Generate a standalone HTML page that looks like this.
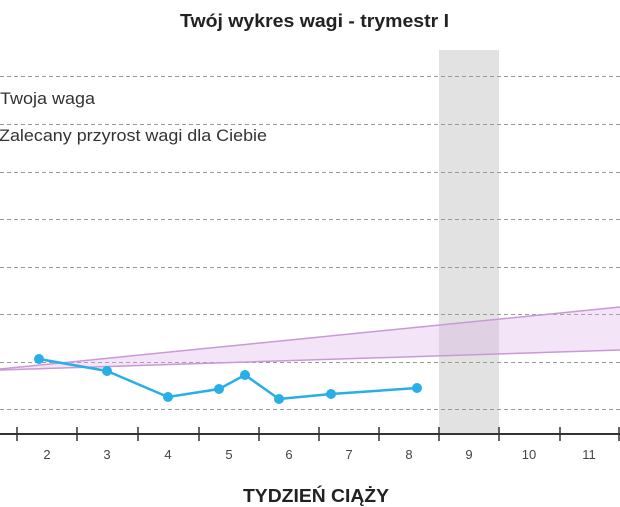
<!DOCTYPE html>
<html><head><meta charset="utf-8"><style>
body{margin:0;width:620px;height:507px;background:#fff;overflow:hidden}
svg{display:block;font-family:"Liberation Sans",sans-serif}
</style></head><body>
<svg width="620" height="507" viewBox="0 0 620 507">
<rect x="439" y="50" width="60" height="384" fill="#e2e2e2"/>
<g stroke="#9a9a9a" stroke-width="1" stroke-dasharray="4,3">
<line x1="0" y1="76.5" x2="620" y2="76.5"/>
<line x1="0" y1="124.5" x2="620" y2="124.5"/>
<line x1="0" y1="172.5" x2="620" y2="172.5"/>
<line x1="0" y1="219.5" x2="620" y2="219.5"/>
<line x1="0" y1="267.5" x2="620" y2="267.5"/>
<line x1="0" y1="314.5" x2="620" y2="314.5"/>
<line x1="0" y1="362.5" x2="620" y2="362.5"/>
<line x1="0" y1="409.5" x2="620" y2="409.5"/>
</g>
<polygon points="0,369 620,307 620,350 0,370" fill="#d9a6e6" fill-opacity="0.3"/>
<polyline points="0,369 620,307" fill="none" stroke="#c79ad6" stroke-width="1.5"/>
<polyline points="0,370 620,350" fill="none" stroke="#c79ad6" stroke-width="1.5"/>
<polyline points="39,359 107,371 168,397 219,389 245,375 279,399 331,394 417,388" fill="none" stroke="#29aee6" stroke-width="2.5"/>
<g fill="#29aee6">
<circle cx="39" cy="359" r="5"/><circle cx="107" cy="371" r="5"/><circle cx="168" cy="397" r="5"/><circle cx="219" cy="389" r="5"/><circle cx="245" cy="375" r="5"/><circle cx="279" cy="399" r="5"/><circle cx="331" cy="394" r="5"/><circle cx="417" cy="388" r="5"/>
</g>
<line x1="0" y1="434" x2="620" y2="434" stroke="#333" stroke-width="2"/>
<g stroke="#333" stroke-width="1.5">
<line x1="17" y1="427" x2="17" y2="441"/><line x1="77" y1="427" x2="77" y2="441"/><line x1="138" y1="427" x2="138" y2="441"/><line x1="199" y1="427" x2="199" y2="441"/><line x1="259" y1="427" x2="259" y2="441"/><line x1="319" y1="427" x2="319" y2="441"/><line x1="379" y1="427" x2="379" y2="441"/><line x1="439" y1="427" x2="439" y2="441"/><line x1="499" y1="427" x2="499" y2="441"/><line x1="560" y1="427" x2="560" y2="441"/><line x1="619" y1="427" x2="619" y2="441"/>
</g>
<g font-size="13" fill="#444" text-anchor="middle">
<text x="47" y="459">2</text><text x="107" y="459">3</text><text x="168" y="459">4</text><text x="229" y="459">5</text><text x="289" y="459">6</text><text x="349" y="459">7</text><text x="409" y="459">8</text><text x="469" y="459">9</text><text x="529" y="459">10</text><text x="589" y="459">11</text>
</g>
<text x="243" y="502" font-size="18" font-weight="bold" fill="#222" textLength="146" lengthAdjust="spacingAndGlyphs">TYDZIEŃ CIĄŻY</text>
<text x="180" y="27" font-size="18" font-weight="bold" fill="#222" textLength="269" lengthAdjust="spacingAndGlyphs">Twój wykres wagi - trymestr I</text>
<text x="0" y="104" font-size="17" fill="#333" textLength="95" lengthAdjust="spacingAndGlyphs">Twoja waga</text>
<text x="-1" y="141" font-size="17" fill="#333" textLength="268" lengthAdjust="spacingAndGlyphs">Zalecany przyrost wagi dla Ciebie</text>
</svg>
</body></html>
